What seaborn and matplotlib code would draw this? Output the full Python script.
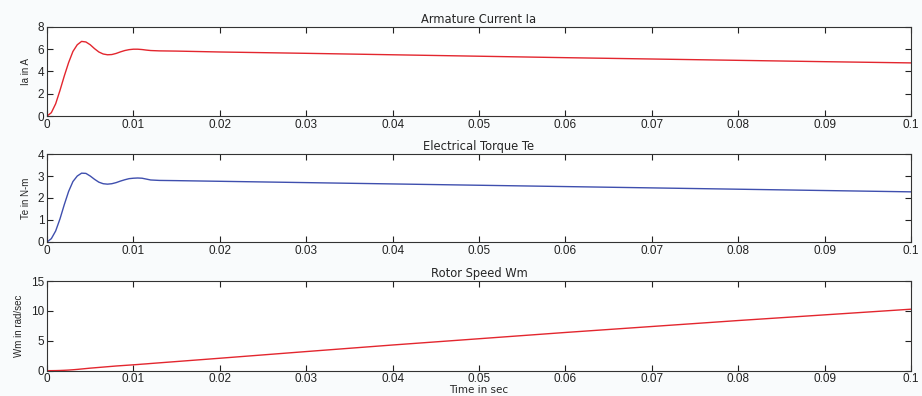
import matplotlib
matplotlib.use("Agg")
import matplotlib.pyplot as plt
import seaborn as sns
import pandas as pd

t = [0, 0.0005, 0.001, 0.0015, 0.002, 0.0025, 0.003, 0.0035, 0.004, 0.0045,
     0.005, 0.0055, 0.006, 0.0065, 0.007, 0.0075, 0.008, 0.0085, 0.009, 0.0095,
     0.01, 0.0105, 0.011, 0.0115, 0.012, 0.013, 0.015, 0.02, 0.03, 0.04, 0.05,
     0.06, 0.07, 0.08, 0.09, 0.1]
ia = [0, 0.3, 1.1, 2.3, 3.6, 4.8, 5.8, 6.4, 6.7, 6.65,
      6.4, 6.05, 5.75, 5.57, 5.5, 5.52, 5.62, 5.76, 5.88, 5.96,
      6.0, 6.0, 5.97, 5.92, 5.88, 5.85, 5.83, 5.75, 5.63, 5.5, 5.37,
      5.24, 5.12, 5.0, 4.88, 4.77]
te = [0, 0.15, 0.5, 1.05, 1.7, 2.3, 2.75, 3.0, 3.13, 3.12,
      3.0, 2.85, 2.72, 2.65, 2.63, 2.65, 2.7, 2.77, 2.83, 2.88,
      2.9, 2.91, 2.9, 2.86, 2.82, 2.8, 2.79, 2.76, 2.7, 2.64, 2.58,
      2.52, 2.46, 2.4, 2.34, 2.28]
wm = [0, 0.0, 0.01, 0.03, 0.06, 0.1, 0.15, 0.21, 0.28, 0.35,
      0.42, 0.48, 0.54, 0.6, 0.66, 0.72, 0.78, 0.83, 0.88, 0.93,
      0.98, 1.03, 1.09, 1.14, 1.2, 1.31, 1.53, 2.08, 3.2, 4.3, 5.35,
      6.4, 7.4, 8.4, 9.35, 10.3]

titles = ["Armature Current Ia", "Electrical Torque Te", "Rotor Speed Wm"]
ylabels = ["Ia in A", "Te in N-m", "Wm in rad/sec"]
ylims = [(0, 8), (0, 4), (0, 15)]
yticks = [[0, 2, 4, 6, 8], [0, 1, 2, 3, 4], [0, 5, 10, 15]]
xticks = [0, 0.01, 0.02, 0.03, 0.04, 0.05, 0.06, 0.07, 0.08, 0.09, 0.1]
xticklabels = ["0", "0.01", "0.02", "0.03", "0.04", "0.05", "0.06", "0.07", "0.08", "0.09", "0.1"]
colors = ["#e3262e", "#3f4fae", "#e3262e"]

df = pd.DataFrame({"t": t, "ia": ia, "te": te, "wm": wm})
cols = ["ia", "te", "wm"]

sns.set_style("ticks")
plt.rcParams["font.family"] = ["Liberation Sans", "DejaVu Sans"]

fig = plt.figure(figsize=(9.22, 3.96), dpi=100)
fig.patch.set_facecolor("#f9fbfc")
positions = [(0.051, 0.707, 0.937, 0.225),
             (0.051, 0.389, 0.937, 0.222),
             (0.051, 0.064, 0.937, 0.226)]

for i in range(3):
    ax = fig.add_axes(positions[i])
    sns.lineplot(data=df, x="t", y=cols[i], ax=ax, color=colors[i], linewidth=1.0)
    ax.set_xlim(0, 0.1)
    ax.set_ylim(*ylims[i])
    ax.set_xticks(xticks)
    ax.set_xticklabels(xticklabels)
    ax.set_yticks(yticks[i])
    ax.tick_params(direction="in", top=True, right=True, length=4, width=0.8,
                   labelsize=8.5, pad=2, colors="#222222")
    for s in ax.spines.values():
        s.set_linewidth(0.8)
        s.set_color("#333333")
    ax.set_title(titles[i], fontsize=8.3, pad=3, family="DejaVu Sans")
    ax.set_ylabel(ylabels[i], fontsize=7, labelpad=5)
    ax.set_xlabel("")
    if i == 2:
        ax.set_xlabel("Time in sec", fontsize=7.5, labelpad=0, family="DejaVu Sans")

fig.savefig("out.png", dpi=100, facecolor=fig.get_facecolor())
